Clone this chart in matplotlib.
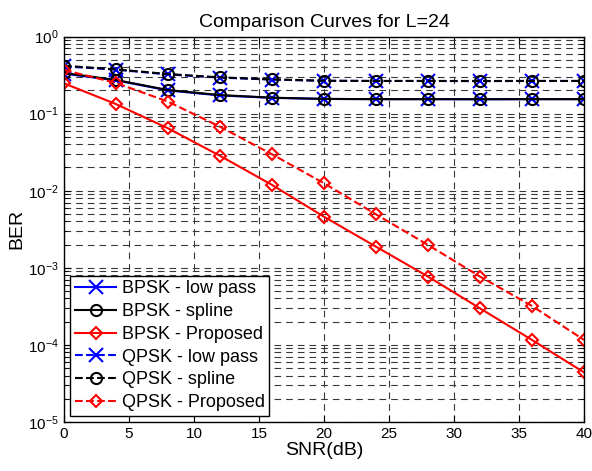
import numpy as np
import matplotlib
matplotlib.use('Agg')
import matplotlib.pyplot as plt
from matplotlib.ticker import LogLocator, FixedLocator

plt.rcParams['font.family'] = ['Liberation Sans', 'DejaVu Sans']
plt.rcParams['mathtext.fontset'] = 'custom'
plt.rcParams['mathtext.rm'] = 'Liberation Sans'

snr = [0, 4, 8, 12, 16, 20, 24, 28, 32, 36, 40]

bpsk_lowpass = [0.33, 0.27, 0.20, 0.172, 0.160, 0.155, 0.154, 0.154, 0.153, 0.154, 0.154]
bpsk_spline = [0.336, 0.273, 0.202, 0.174, 0.161, 0.155, 0.154, 0.154, 0.154, 0.154, 0.154]
bpsk_proposed = [0.247, 0.133, 0.0645, 0.0284, 0.0119, 0.0046, 0.00188, 0.00077, 0.000298, 0.000116, 4.4e-5]
qpsk_lowpass = [0.41, 0.372, 0.322, 0.293, 0.276, 0.266, 0.265, 0.265, 0.264, 0.265, 0.265]
qpsk_spline = [0.418, 0.375, 0.326, 0.295, 0.278, 0.267, 0.265, 0.265, 0.265, 0.265, 0.265]
qpsk_proposed = [0.368, 0.25, 0.143, 0.0676, 0.0297, 0.0125, 0.00494, 0.00198, 0.00077, 0.00032, 0.000116]

fig = plt.figure(figsize=(5.92, 4.71), dpi=100)
ax = fig.add_axes([0.108, 0.104, 0.8785, 0.8185])

lw = 1.5
ax.semilogy(snr, bpsk_lowpass, '-x', color='blue', lw=lw, ms=10, mew=1.5, label='BPSK - low pass')
ax.semilogy(snr, bpsk_spline, '-o', color='black', lw=lw, ms=8, mew=1.5, mfc='none', label='BPSK - spline')
ax.semilogy(snr, bpsk_proposed, '-D', color='red', lw=lw, ms=6.5, mew=1.5, mfc='none', label='BPSK - Proposed')
ax.semilogy(snr, qpsk_lowpass, '--x', color='blue', lw=lw, ms=10, mew=1.5, label='QPSK - low pass')
ax.semilogy(snr, qpsk_spline, '--o', color='black', lw=lw, ms=8, mew=1.5, mfc='none', label='QPSK - spline')
ax.semilogy(snr, qpsk_proposed, '--D', color='red', lw=lw, ms=6.5, mew=1.5, mfc='none', label='QPSK - Proposed')

ax.set_xlim(0, 40)
ax.set_ylim(1e-5, 1)
ax.xaxis.set_major_locator(FixedLocator(np.arange(0, 41, 5)))
ax.yaxis.set_major_locator(LogLocator(base=10, numticks=10))
ax.yaxis.set_minor_locator(LogLocator(base=10, subs=np.arange(2, 10), numticks=10))

grid_style = dict(color='#383838', linestyle=(0, (6, 4.5)), linewidth=0.8)
ax.grid(True, which='major', axis='both', **grid_style)
ax.grid(True, which='minor', axis='y', **grid_style)
ax.set_axisbelow(True)

ax.tick_params(which='both', direction='in', top=True, right=True, labelsize=11)
ax.tick_params(which='major', length=5)
ax.tick_params(which='minor', length=3)
for s in ax.spines.values():
    s.set_linewidth(1.0)

ax.set_title('Comparison Curves for L=24', fontsize=14, pad=7)
ax.set_xlabel('SNR(dB)', fontsize=14, labelpad=1)
ax.set_ylabel('BER', fontsize=14, labelpad=2)

leg = ax.legend(loc='lower left', fontsize=13, handlelength=2.3, fancybox=False,
                framealpha=1, edgecolor='black', borderaxespad=0.35,
                labelspacing=0.32, borderpad=0.25, handletextpad=0.3)
leg.get_frame().set_linewidth(1.0)

fig.savefig('out.png', dpi=100)
